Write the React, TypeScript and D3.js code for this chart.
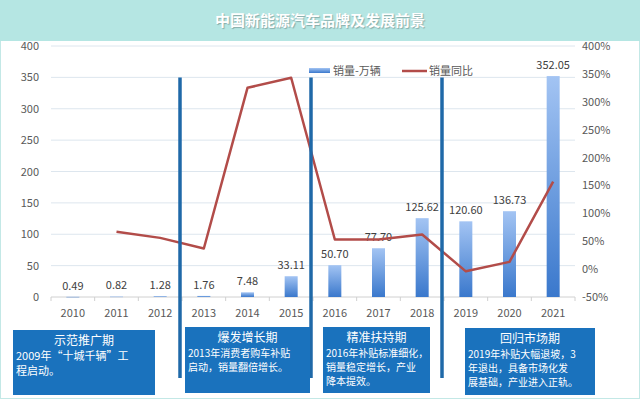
import React from 'react';
import * as d3 from 'd3';

// chart data
const years = ['2010', '2011', '2012', '2013', '2014', '2015', '2016', '2017', '2018', '2019', '2020', '2021'];
const sales = [0.49, 0.82, 1.28, 1.76, 7.48, 33.11, 50.70, 77.70, 125.62, 120.60, 136.73, 352.05];
const growth: (number | null)[] = [null, 67, 56, 37, 325, 343, 53, 53, 62, -4, 13, 157];
const leftTicks = [0, 50, 100, 150, 200, 250, 300, 350, 400];
const rightTicks = [-50, 0, 50, 100, 150, 200, 250, 300, 350, 400];
const dividerBefore = ['2013', '2016', '2019'];
const phaseTitles = ['示范推广期', '爆发增长期', '精准扶持期', '回归市场期'];
const phaseTexts = [
  ['2009年“十城千辆”工', '程启动。'],
  ['2013年消费者购车补贴', '启动，销量翻倍增长。'],
  ['2016年补贴标准细化，', '销量稳定增长，产业', '降本提效。'],
  ['2019年补贴大幅退坡，3', '年退出，具备市场化发', '展基础，产业进入正轨。'],
];
const title = '中国新能源汽车品牌及发展前景';
const legendNames = ['销量-万辆', '销量同比'];

const W = 640;
const H = 399;
const font = '"Noto Sans CJK SC", "Noto Sans", sans-serif';

// box layout (x, y, w, h, body font size)
const boxes = [
  {x: 13, y: 330, w: 142, h: 65, fs: 11},
  {x: 185, y: 327, w: 125, h: 66, fs: 10},
  {x: 323, y: 327, w: 107, h: 66, fs: 10},
  {x: 465, y: 328, w: 130, h: 67, fs: 10},
];

const App = () => {
  const x = d3.scaleBand().domain(years).range([51, 575]).padding(0);
  const y = d3.scaleLinear().domain([0, 400]).range([297, 46]);
  const yR = d3.scaleLinear().domain([-50, 400]).range([297, 46]);
  const bw = 13;

  const growthLine = d3.line<number | null>()
    .defined(d => d != null)
    .x((d, i) => (x(years[i]) as number) + x.bandwidth() / 2)
    .y(d => yR(d as number));

  return (
    <div style={{position: 'absolute', left: 0, top: 0}}>
      <svg width={W} height={H} style={{display: 'block', fontFamily: font}}>
        <defs>
          <linearGradient id="barGrad" x1="0" y1="0" x2="0" y2="1">
            <stop offset="0%" stopColor="#a3c4f3" />
            <stop offset="100%" stopColor="#3a78cc" />
          </linearGradient>
        </defs>
        <rect x={0} y={0} width={W} height={H} fill="#fff" />
        <rect x={0.5} y={0.5} width={W - 1} height={H - 1} fill="none" stroke="#c3e8e6" />
        <rect x={0} y={0} width={W} height={41} fill="#b5e6e3" />
        <text x={320} y={26} textAnchor="middle" fill="#fff" fontSize={15} fontWeight="bold"
          style={{textShadow: '1px 1px 1px rgba(0,0,0,0.25)'}}>{title}</text>

        {/* grid */}
        {leftTicks.map(t => (
          <line key={t} x1={51} x2={575} y1={y(t)} y2={y(t)} stroke={t === 0 ? '#d0d0d0' : '#dde6ee'} />
        ))}
        {leftTicks.map(t => (
          <text key={'l' + t} x={39} y={y(t) + 4} textAnchor="end" fontSize={11} fill="#595959">{t}</text>
        ))}
        {rightTicks.map(t => (
          <text key={'r' + t} x={582} y={yR(t) + 4} textAnchor="start" fontSize={11} fill="#595959">{t}%</text>
        ))}
        {years.map((yr, i) => (
          <g key={yr}>
            <line x1={(x(yr) as number)} x2={(x(yr) as number)} y1={297} y2={301} stroke="#d0d0d0" />
            <text x={(x(yr) as number) + x.bandwidth() / 2} y={317} textAnchor="middle" fontSize={11} fill="#595959">{yr}</text>
          </g>
        ))}
        <line x1={575} x2={575} y1={297} y2={301} stroke="#d0d0d0" />

        {/* bars */}
        {sales.map((v, i) => {
          const cx = (x(years[i]) as number) + x.bandwidth() / 2;
          return (
            <g key={i}>
              <rect x={cx - bw / 2} y={y(v)} width={bw} height={Math.max(297 - y(v), 0.6)} fill="url(#barGrad)" />
              <text x={cx} y={y(v) - 7} textAnchor="middle" fontSize={11} fill="#404040">{v.toFixed(2)}</text>
            </g>
          );
        })}

        {/* growth line */}
        <path d={growthLine(growth) || ''} fill="none" stroke="#b24c49" strokeWidth={2.5} strokeLinejoin="round" />

        {/* legend */}
        <rect x={309} y={68} width={21} height={5} fill="url(#barGrad)" />
        <text x={333} y={75} fontSize={11} fill="#595959">{legendNames[0]}</text>
        <line x1={402} x2={427} y1={71} y2={71} stroke="#b24c49" strokeWidth={2.5} />
        <text x={429} y={75} fontSize={11} fill="#595959">{legendNames[1]}</text>

        {/* phase dividers */}
        {dividerBefore.map(yr => (
          <line key={yr} x1={(x(yr) as number) - 2} x2={(x(yr) as number) - 2} y1={y(350)} y2={378}
            stroke="#1f69a8" strokeWidth={3.5} />
        ))}

        {/* phase boxes */}
        {boxes.map((b, i) => (
          <g key={i}>
            <rect x={b.x} y={b.y} width={b.w} height={b.h} fill="#1a72bd" />
            <text x={b.x + b.w / 2} y={b.y + 15} textAnchor="middle" fontSize={12} fill="#fff">{phaseTitles[i]}</text>
            {phaseTexts[i].map((ln, j) => (
              <text key={j} x={b.x + 3} y={b.y + 30 + j * (b.fs + 4)} fontSize={b.fs} fill="#fff">{ln}</text>
            ))}
          </g>
        ))}
      </svg>
    </div>
  );
};

export default App;
